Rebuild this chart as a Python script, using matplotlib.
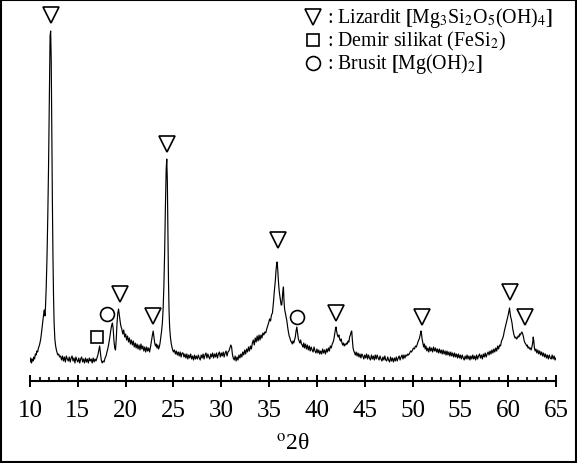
import matplotlib
matplotlib.use("Agg")
import matplotlib.pyplot as plt
from matplotlib.patches import Rectangle
from matplotlib.ticker import MultipleLocator

plt.rcParams['font.family'] = ['Liberation Serif', 'DejaVu Serif']
plt.rcParams['mathtext.fontset'] = 'stix'

# XRD scan: diffraction angle (degrees 2-theta) and intensity (arbitrary units)
two_theta = [
    10.00, 10.08, 10.16, 10.24, 10.32, 10.40, 10.48, 10.56, 10.64, 10.72, 10.80, 10.88, 10.96,
    11.04, 11.12, 11.20, 11.28, 11.36, 11.44, 11.50, 11.56, 11.62, 11.70, 11.78, 11.86, 11.94,
    12.02, 12.10, 12.16, 12.22, 12.28, 12.34, 12.40, 12.46, 12.52, 12.60, 12.68, 12.76, 12.84,
    12.92, 13.00, 13.10, 13.20, 13.3, 13.4, 13.5, 13.6, 13.7, 13.8, 13.9, 14.0, 14.1, 14.2, 14.3,
    14.4, 14.5, 14.6, 14.7, 14.8, 14.9, 15.0, 15.1, 15.2, 15.3, 15.4, 15.5, 15.6, 15.7, 15.8,
    15.9, 16.0, 16.1, 16.2, 16.3, 16.4, 16.5, 16.6, 16.7, 16.8, 16.9, 17.0, 17.1, 17.2, 17.28,
    17.36, 17.45, 17.55, 17.65, 17.75, 17.85, 17.95, 18.05, 18.15, 18.25, 18.35, 18.45, 18.55,
    18.62, 18.70, 18.78, 18.86, 18.94, 19.02, 19.10, 19.18, 19.26, 19.34, 19.42, 19.5, 19.6,
    19.7, 19.8, 19.9, 20.0, 20.1, 20.2, 20.3, 20.4, 20.5, 20.6, 20.7, 20.8, 20.9, 21.0, 21.1,
    21.2, 21.3, 21.4, 21.5, 21.6, 21.7, 21.8, 21.9, 22.0, 22.1, 22.2, 22.3, 22.4, 22.5, 22.6,
    22.7, 22.8, 22.88, 22.96, 23.04, 23.12, 23.2, 23.28, 23.36, 23.44, 23.52, 23.6, 23.68,
    23.76, 23.84, 23.92, 24.0, 24.08, 24.16, 24.24, 24.30, 24.36, 24.42, 24.48, 24.54, 24.6,
    24.68, 24.76, 24.84, 24.92, 25.0, 25.1, 25.2, 25.3, 25.4, 25.5, 25.6, 25.7, 25.8, 25.9,
    26.0, 26.1, 26.2, 26.3, 26.4, 26.5, 26.6, 26.7, 26.8, 26.9, 27.0, 27.1, 27.2, 27.3, 27.4,
    27.5, 27.6, 27.7, 27.8, 27.9, 28.0, 28.1, 28.2, 28.3, 28.4, 28.5, 28.6, 28.7, 28.8, 28.9,
    29.0, 29.1, 29.2, 29.3, 29.4, 29.5, 29.6, 29.7, 29.8, 29.9, 30.0, 30.1, 30.2, 30.3, 30.4,
    30.5, 30.6, 30.7, 30.8, 30.9, 31.0, 31.08, 31.16, 31.25, 31.35, 31.45, 31.55, 31.65, 31.75,
    31.85, 31.95, 32.05, 32.15, 32.25, 32.35, 32.45, 32.55, 32.65, 32.75, 32.85, 32.95, 33.05,
    33.15, 33.25, 33.35, 33.45, 33.55, 33.65, 33.75, 33.85, 33.95, 34.05, 34.15, 34.25, 34.35,
    34.45, 34.55, 34.65, 34.75, 34.85, 34.95, 35.05, 35.15, 35.25, 35.35, 35.45, 35.55, 35.65,
    35.72, 35.78, 35.84, 35.90, 35.96, 36.02, 36.08, 36.14, 36.20, 36.26, 36.32, 36.38, 36.44,
    36.50, 36.56, 36.62, 36.70, 36.78, 36.86, 36.94, 37.02, 37.10, 37.18, 37.26, 37.34, 37.42,
    37.50, 37.58, 37.66, 37.74, 37.82, 37.90, 37.98, 38.06, 38.14, 38.22, 38.30, 38.38, 38.46,
    38.54, 38.62, 38.7, 38.8, 38.9, 39.0, 39.1, 39.2, 39.3, 39.4, 39.5, 39.6, 39.7, 39.8, 39.9,
    40.0, 40.1, 40.2, 40.3, 40.4, 40.5, 40.6, 40.7, 40.8, 40.9, 41.0, 41.1, 41.2, 41.3, 41.4,
    41.5, 41.6, 41.7, 41.78, 41.86, 41.94, 42.00, 42.06, 42.14, 42.22, 42.30, 42.38, 42.46,
    42.54, 42.62, 42.70, 42.78, 42.86, 42.94, 43.02, 43.10, 43.18, 43.26, 43.34, 43.42, 43.50,
    43.58, 43.64, 43.70, 43.78, 43.86, 43.94, 44.02, 44.1, 44.2, 44.3, 44.4, 44.5, 44.6, 44.7,
    44.8, 44.9, 45.0, 45.1, 45.2, 45.3, 45.4, 45.5, 45.6, 45.7, 45.8, 45.9, 46.0, 46.1, 46.2,
    46.3, 46.4, 46.5, 46.6, 46.7, 46.8, 46.9, 47.0, 47.1, 47.2, 47.3, 47.4, 47.5, 47.6, 47.7,
    47.8, 47.9, 48.0, 48.1, 48.2, 48.3, 48.4, 48.5, 48.6, 48.7, 48.8, 48.9, 49.0, 49.1, 49.2,
    49.3, 49.4, 49.5, 49.6, 49.7, 49.8, 49.9, 50.0, 50.1, 50.2, 50.3, 50.4, 50.5, 50.6, 50.7,
    50.8, 50.88, 50.94, 51.00, 51.08, 51.16, 51.24, 51.32, 51.4, 51.5, 51.6, 51.7, 51.8, 51.9,
    52.0, 52.1, 52.2, 52.3, 52.4, 52.5, 52.6, 52.7, 52.8, 52.9, 53.0, 53.1, 53.2, 53.3, 53.4,
    53.5, 53.6, 53.7, 53.8, 53.9, 54.0, 54.1, 54.2, 54.3, 54.4, 54.5, 54.6, 54.7, 54.8, 54.9,
    55.0, 55.1, 55.2, 55.3, 55.4, 55.5, 55.6, 55.7, 55.8, 55.9, 56.0, 56.1, 56.2, 56.3, 56.4,
    56.5, 56.6, 56.7, 56.8, 56.9, 57.0, 57.1, 57.2, 57.3, 57.4, 57.5, 57.6, 57.7, 57.8, 57.9,
    58.0, 58.1, 58.2, 58.3, 58.4, 58.5, 58.6, 58.7, 58.8, 58.9, 59.0, 59.1, 59.2, 59.3, 59.4,
    59.5, 59.6, 59.7, 59.8, 59.9, 60.0, 60.08, 60.14, 60.20, 60.26, 60.32, 60.40, 60.48, 60.56,
    60.64, 60.72, 60.80, 60.88, 60.96, 61.04, 61.12, 61.20, 61.28, 61.36, 61.44, 61.52, 61.60,
    61.68, 61.76, 61.84, 61.92, 62.00, 62.08, 62.16, 62.24, 62.32, 62.40, 62.48, 62.56, 62.62,
    62.68, 62.74, 62.82, 62.9, 63.0, 63.1, 63.2, 63.3, 63.4, 63.5, 63.6, 63.7, 63.8, 63.9, 64.0,
    64.1, 64.2, 64.3, 64.4, 64.5, 64.6, 64.7, 64.8, 64.9, 65.0,
]
intensity = [
    19, 23, 18, 22, 20, 24, 22, 27, 26, 30, 29, 33, 35,
    38, 42, 48, 55, 62, 68, 71, 65, 74, 95, 125, 165, 215,
    285, 345, 350, 320, 250, 180, 125, 85, 58, 42, 35, 31, 28,
    26, 27, 24, 25, 21, 25, 20, 24, 19, 25, 22, 20, 24, 19, 23,
    25, 20, 23, 18, 24, 21, 19, 23, 18, 22, 24, 19, 22, 18, 23,
    19, 22, 18, 23, 20, 22, 18, 23, 19, 22, 20, 23, 26, 31, 35,
    28, 21, 18, 20, 19, 23, 25, 29, 33, 38, 44, 51, 56,
    58, 52, 40, 33, 31, 42, 58, 68, 72, 66, 60, 55, 52,
    47, 51, 44, 47, 41, 45, 39, 43, 37, 41, 36, 40, 34, 38, 33,
    37, 32, 36, 31, 37, 32, 35, 30, 34, 29, 34, 30, 33, 29, 34,
    40, 46, 50, 44, 38, 35, 37, 33, 36, 32, 34, 38, 44,
    50, 58, 72, 95, 130, 175, 212, 222, 200, 150, 100, 70, 54,
    44, 38, 34, 31, 29, 31, 27, 30, 26, 29, 25, 29, 24, 28,
    28, 24, 27, 23, 27, 22, 26, 23, 27, 22, 25, 21, 26, 22, 25,
    22, 26, 23, 21, 26, 23, 27, 22, 26, 28, 23, 27, 24, 22, 27,
    24, 28, 23, 27, 24, 28, 23, 27, 29, 24, 28, 25, 29, 24, 28,
    30, 25, 29, 30, 33, 36, 34, 27, 23, 21, 25, 20, 24, 21,
    26, 23, 27, 24, 29, 26, 31, 27, 32, 29, 34, 30, 35,
    32, 38, 41, 36, 43, 39, 45, 40, 46, 41, 46, 43, 48,
    46, 49, 48, 52, 55, 58, 62, 60, 66, 68, 78, 90, 100,
    110, 116, 119, 112, 102, 94, 88, 84, 80, 76, 76, 82, 90,
    94, 80, 72, 68, 64, 60, 54, 49, 45, 43, 40, 39, 37,
    40, 38, 41, 44, 50, 54, 48, 42, 40, 38, 41, 37, 36,
    34, 38, 33, 37, 32, 36, 31, 35, 30, 34, 31, 29, 34, 30, 28,
    32, 28, 31, 27, 30, 27, 32, 28, 31, 27, 32, 29, 33, 30, 35,
    33, 37, 39, 42, 47, 52, 54, 50, 46, 44, 46, 42, 40,
    42, 38, 36, 38, 35, 37, 36, 38, 37, 40, 39, 44, 46,
    49, 50, 42, 33, 30, 28, 26, 29, 25, 28, 24, 27, 23, 27,
    25, 22, 26, 23, 27, 22, 26, 23, 21, 26, 22, 25, 21, 26, 22,
    26, 23, 21, 25, 22, 20, 24, 21, 25, 21, 20, 24, 21, 19, 24,
    20, 23, 19, 23, 20, 24, 20, 23, 25, 21, 24, 26, 22, 26, 23,
    26, 25, 27, 26, 28, 30, 29, 31, 33, 32, 35, 34, 37, 40, 42,
    46, 50, 47, 42, 38, 34, 37, 32, 35, 30, 33, 29, 34, 30,
    33, 29, 34, 30, 33, 29, 32, 28, 32, 28, 31, 27, 31, 27, 30,
    26, 30, 26, 29, 25, 29, 25, 28, 24, 28, 24, 27, 23, 27, 23,
    26, 22, 26, 23, 21, 25, 22, 26, 22, 25, 21, 25, 22, 26, 22,
    25, 21, 26, 22, 25, 27, 23, 26, 22, 27, 24, 28, 24, 27, 29,
    26, 30, 27, 31, 28, 32, 29, 33, 30, 35, 32, 36, 35, 40, 42,
    45, 50, 54, 58, 62, 66, 70, 73, 68, 64, 62, 58, 52, 48,
    45, 43, 44, 42, 43, 45, 44, 47, 46, 48, 49, 47, 44,
    40, 38, 37, 35, 36, 33, 34, 32, 33, 31, 34, 38, 44,
    40, 33, 30, 32, 28, 31, 27, 30, 26, 29, 25, 28, 24, 27, 23,
    26, 22, 26, 23, 22, 26, 22, 25, 21, 23,
]

# Phase markers placed above the assigned reflections
lizardite_2theta = [12.15, 19.41, 22.83, 24.33, 35.90, 41.98, 50.97, 60.17, 61.72]
lizardite_mark_y = [366, 87, 65, 237, 141, 68, 64, 89, 64]
iron_silicate_2theta = [17.04]
iron_silicate_mark_y = [44]
brucite_2theta = [18.05, 37.96]
brucite_mark_y = [67, 64]

legend_labels = [
    r": Lizardit $\mathbf{[}$Mg$_3$Si$_2$O$_5$(OH)$_4$$\mathbf{]}$",
    r": Demir silikat (FeSi$_2$)",
    r": Brusit $\mathbf{[}$Mg(OH)$_2$$\mathbf{]}$",
]
legend_markers = ['v', 's', 'o']
legend_sizes = [11, 9, 10]

x_ticks = list(range(10, 66, 5))

W, H = 577, 464
fig = plt.figure(figsize=(W / 100, H / 100), dpi=100)
ax = fig.add_axes([30 / W, (H - 382) / H, 526 / W, 380 / H])

ax.plot(two_theta, intensity, color='black', lw=0.85)

mark_style = dict(ls='none', mfc='white', mec='black', mew=1.2, clip_on=False)
ax.plot(lizardite_2theta, lizardite_mark_y, marker='v', ms=11, **mark_style)
ax.plot(iron_silicate_2theta, iron_silicate_mark_y, marker='s', ms=9, **mark_style)
ax.plot(brucite_2theta, brucite_mark_y, marker='o', ms=10, **mark_style)

# Legend block in the upper right
for i, (lab, mk, ms) in enumerate(zip(legend_labels, legend_markers, legend_sizes)):
    yy = 0.958 - i * 0.061
    ax.plot([0.538], [yy], marker=mk, ms=ms, transform=ax.transAxes, **mark_style)
    ax.text(0.565, yy, lab, transform=ax.transAxes, fontsize=14.3, va='center', ha='left')

ax.set_xlim(10, 65)
ax.set_ylim(0, 380)
ax.set_xticks(x_ticks)
ax.xaxis.set_minor_locator(MultipleLocator(1))
ax.tick_params(axis='x', which='major', direction='inout', length=8, width=1.4,
               pad=9, labelsize=18)
ax.tick_params(axis='x', which='minor', direction='in', length=3, width=1.2)
ax.set_yticks([])
for side in ('left', 'right', 'top'):
    ax.spines[side].set_visible(False)
ax.spines['bottom'].set_linewidth(1.5)
ax.set_facecolor('none')
ax.set_xlabel(r"$^{\mathrm{o}}$2θ", fontsize=17, labelpad=9)

fig.add_artist(Rectangle((0.0015, 0.002), 0.997, 0.996, transform=fig.transFigure,
                         fill=False, lw=1.5, ec='black'))

fig.savefig('out.png', dpi=100)
